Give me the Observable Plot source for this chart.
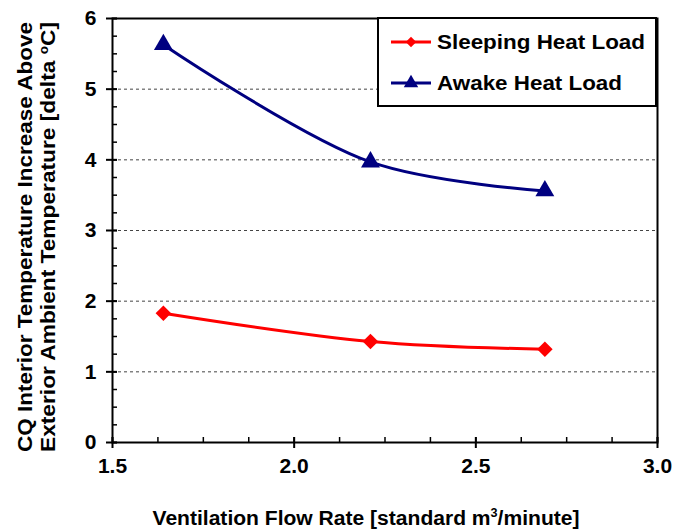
<!DOCTYPE html>
<html><head><meta charset="utf-8">
<script src="https://cdn.jsdelivr.net/npm/d3@7"></script>
<script src="https://cdn.jsdelivr.net/npm/@observablehq/plot@0.6"></script>
<style>
body{margin:0;background:#fff;}
svg{font-family:"Liberation Sans",Arial,sans-serif !important;}
svg text{font-weight:bold;}
</style>
</head><body>
<div id="chart"></div>
<script>
const flowRate = [1.64, 2.21, 2.69];
const sleeping = [1.83, 1.43, 1.32];
const awake = [5.63, 3.97, 3.56];
const seriesNames = ["Sleeping Heat Load", "Awake Heat Load"];
const xTicks = [1.5, 2.0, 2.5, 3.0];
const yTicks = [0, 1, 2, 3, 4, 5, 6];
const gridValues = [1, 2, 3, 4, 5];
const colors = ["#ff0000", "#000080"];
const symbols = ["diamond2", "triangle"];

const data = [
  ...flowRate.map((x, i) => ({x, y: sleeping[i], s: seriesNames[0]})),
  ...flowRate.map((x, i) => ({x, y: awake[i], s: seriesNames[1]}))
];

const W = 674, H = 531;
const mL = 112, mR = 17, mT = 18, mB = 89;
const innerW = W - mL - mR, innerH = H - mT - mB;
const yMinor = d3.range(0, 6.0001, 0.25);
const xMinor = d3.range(1.5, 3.0001, 0.125);

const chart = Plot.plot({
  width: W, height: H,
  marginLeft: mL, marginRight: mR, marginTop: mT, marginBottom: mB,
  x: {domain: [1.5, 3.0]},
  y: {domain: [0, 6]},
  color: {domain: seriesNames, range: colors},
  symbol: {domain: seriesNames, range: symbols},
  marks: [
    Plot.ruleY(gridValues, {stroke: "#444", strokeDasharray: "3,3", strokeWidth: 1}),
    Plot.tickY(yMinor, {y: d => d, insetRight: innerW - 5, stroke: "black", strokeWidth: 1.5}),
    Plot.tickX(xMinor, {x: d => d, insetTop: innerH - 5, stroke: "black", strokeWidth: 1.5}),
    Plot.tickY(yTicks, {y: d => d, insetRight: innerW - 5, stroke: "black", strokeWidth: 2}),
    Plot.tickX(xTicks, {x: d => d, insetTop: innerH - 5, stroke: "black", strokeWidth: 2}),
    Plot.axisY({ticks: yTicks, tickSize: 6, tickPadding: 10, tickFormat: d3.format("d"),
      fontSize: 21, strokeWidth: 2, label: null}),
    Plot.axisX({ticks: xTicks, tickSize: 6, tickPadding: 10, tickFormat: d3.format(".1f"),
      fontSize: 21, strokeWidth: 2, label: null}),
    Plot.line(data, {x: "x", y: "y", z: "s", stroke: "s", strokeWidth: 3, curve: "catmull-rom"}),
    Plot.dot(data, {x: "x", y: "y", symbol: "s", fill: "s", stroke: null, r: 7}),
    Plot.frame({stroke: "black", strokeWidth: 2})
  ]
});

const svg = d3.select(chart);
// x axis title
const xt = svg.append("text").attr("x", 366).attr("y", 525).attr("text-anchor", "middle")
  .attr("font-size", 20).attr("fill", "black")
  .attr("textLength", 427).attr("lengthAdjust", "spacingAndGlyphs");
xt.append("tspan").text("Ventilation Flow Rate [standard m");
xt.append("tspan").attr("dy", -8).attr("font-size", 12).text("3");
xt.append("tspan").attr("dy", 8).text("/minute]");
// y axis title (two lines)
const yt = svg.append("text").attr("transform", "translate(32,237) rotate(-90)")
  .attr("text-anchor", "middle").attr("font-size", 20).attr("fill", "black");
yt.append("tspan").attr("x", 0).attr("y", 0)
  .attr("textLength", 430).attr("lengthAdjust", "spacingAndGlyphs")
  .text("CQ Interior Temperature Increase Above");
const yt2 = svg.append("text").attr("transform", "translate(55,237) rotate(-90)")
  .attr("text-anchor", "middle").attr("font-size", 20).attr("fill", "black")
  .attr("textLength", 430).attr("lengthAdjust", "spacingAndGlyphs");
yt2.append("tspan").text("Exterior Ambient Temperature [delta ");
yt2.append("tspan").attr("dy", -7).attr("font-size", 12).text("o");
yt2.append("tspan").attr("dy", 7).text("C]");

// legend
const lg = svg.append("g");
lg.append("rect").attr("x", 378).attr("y", 18).attr("width", 278).attr("height", 88)
  .attr("fill", "white").attr("stroke", "black").attr("stroke-width", 2);
const symGen = [d3.symbolDiamond2, d3.symbolTriangle];
const legendLen = [208, 185];
seriesNames.forEach((name, i) => {
  const cy = 42 + i * 41;
  lg.append("line").attr("x1", 391).attr("x2", 431).attr("y1", cy).attr("y2", cy)
    .attr("stroke", colors[i]).attr("stroke-width", 3);
  lg.append("path").attr("d", d3.symbol(symGen[i], i === 0 ? 70 : 90)()).attr("transform", `translate(411,${cy})`)
    .attr("fill", colors[i]);
  lg.append("text").attr("x", 437).attr("y", cy + 7).attr("text-anchor", "start")
    .attr("font-size", 20).attr("fill", "black")
    .attr("textLength", legendLen[i]).attr("lengthAdjust", "spacingAndGlyphs").text(name);
});

document.getElementById("chart").appendChild(chart);
</script>
</body></html>
